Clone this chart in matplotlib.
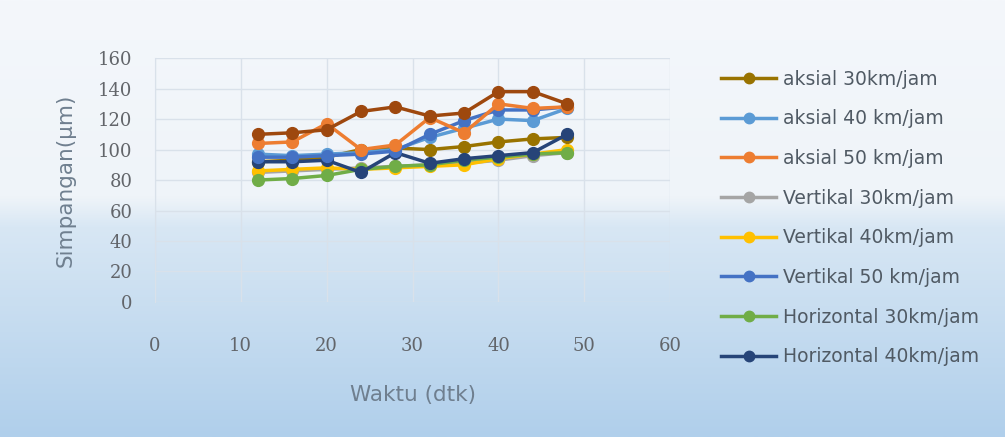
import matplotlib.pyplot as plt
import matplotlib.colors as mcolors
import numpy as np

# --------------------------------
# Data
# --------------------------------

waktu = [12, 16, 20, 24, 28, 32, 36, 40, 44, 48]

aksial_30 = [92, 93, 95, 100, 101, 100, 102, 105, 107, 108]
aksial_40 = [97, 96, 97, 98, 100, 108, 114, 120, 119, 127]
aksial_50 = [104, 105, 117, 100, 103, 121, 111, 130, 127, 128]
vertikal_30 = [85, 86, 87, 88, 89, 90, 91, 93, 96, 98]
vertikal_40 = [86, 87, 88, 87, 88, 89, 90, 94, 97, 100]
vertikal_50 = [95, 95, 96, 97, 99, 110, 119, 126, 126, 128]
horizontal_30 = [80, 81, 83, 87, 89, 90, 93, 95, 97, 98]
horizontal_40 = [92, 92, 93, 85, 98, 91, 94, 96, 98, 110]
# ninth series, its legend entry is cut off in the reference
horizontal_50 = [110, 111, 113, 125, 128, 122, 124, 138, 138, 130]

series_names = [
    "aksial 30km/jam",
    "aksial 40 km/jam",
    "aksial 50 km/jam",
    "Vertikal 30km/jam",
    "Vertikal 40km/jam",
    "Vertikal 50 km/jam",
    "Horizontal 30km/jam",
    "Horizontal 40km/jam",
    "Horizontal 50km/jam",
]

series_values = [
    aksial_30, aksial_40, aksial_50,
    vertikal_30, vertikal_40, vertikal_50,
    horizontal_30, horizontal_40, horizontal_50,
]

colors = [
    "#997300", "#5B9BD5", "#ED7D31",
    "#A5A5A5", "#FFC000", "#4472C4",
    "#70AD47", "#264478", "#9E480E",
]

# draw order: light ones first, the top brown line last
draw_order = [3, 4, 6, 0, 7, 1, 5, 2, 8]

plt.rcParams["font.family"] = ["DejaVu Sans"]

fig = plt.figure(figsize=(10.05, 4.37), dpi=100)

# --------------------------------
# Gradient background
# --------------------------------

bg = fig.add_axes([0, 0, 1, 1], zorder=-10)
cmap = mcolors.LinearSegmentedColormap.from_list(
    "bg",
    [
        (0.0, "#F4F7FB"),
        (0.45, "#EFF4F9"),
        (0.52, "#D8E7F4"),
        (1.0, "#B0CFEB"),
    ],
)
grad = np.linspace(0, 1, 256).reshape(-1, 1)
bg.imshow(grad, aspect="auto", cmap=cmap, extent=[0, 1, 0, 1])
bg.axis("off")

# --------------------------------
# Main axes
# --------------------------------

ax = fig.add_axes([0.154, 0.309, 0.513, 0.558])
ax.set_facecolor("none")

for i in draw_order:
    ax.plot(
        waktu,
        series_values[i],
        color=colors[i],
        linewidth=2.5,
        marker="o",
        markersize=8.5,
        label=series_names[i] if i < 8 else "_" + series_names[i],
    )

ax.set_xlim(0, 60)
ax.set_ylim(0, 160)
ax.set_xticks(range(0, 61, 10))
ax.set_yticks(range(0, 161, 20))

ax.grid(True, color="#D9E1EA", linewidth=1.0)
ax.set_axisbelow(True)

for side in ["top", "right", "bottom"]:
    ax.spines[side].set_visible(False)
ax.spines["left"].set_color("#D9E1EA")

ax.tick_params(axis="both", length=0, labelcolor="#62656A")
ax.tick_params(axis="x", pad=25)
ax.tick_params(axis="y", pad=16)
for lab in ax.get_xticklabels() + ax.get_yticklabels():
    lab.set_family("DejaVu Serif")
    lab.set_fontsize(13)

ax.set_xlabel(
    "Waktu (dtk)",
    fontsize=15.5,
    color="#6F7F8F",
    labelpad=22,
)
ax.set_ylabel(
    "Simpangan(µm)",
    fontsize=15.5,
    color="#6F7F8F",
    labelpad=16,
)

# --------------------------------
# Legend
# --------------------------------

handles, labels = ax.get_legend_handles_labels()
order = [labels.index(n) for n in series_names[:8]]

leg = fig.legend(
    [handles[k] for k in order],
    [labels[k] for k in order],
    loc="upper left",
    bbox_to_anchor=(0.701, 0.879),
    frameon=False,
    fontsize=13.5,
    labelcolor="#505A64",
    handlelength=2.9,
    handletextpad=0.36,
    labelspacing=1.1,
)
for h in leg.legend_handles:
    h.set_markersize(7.5)

plt.savefig("out.png", dpi=100)
